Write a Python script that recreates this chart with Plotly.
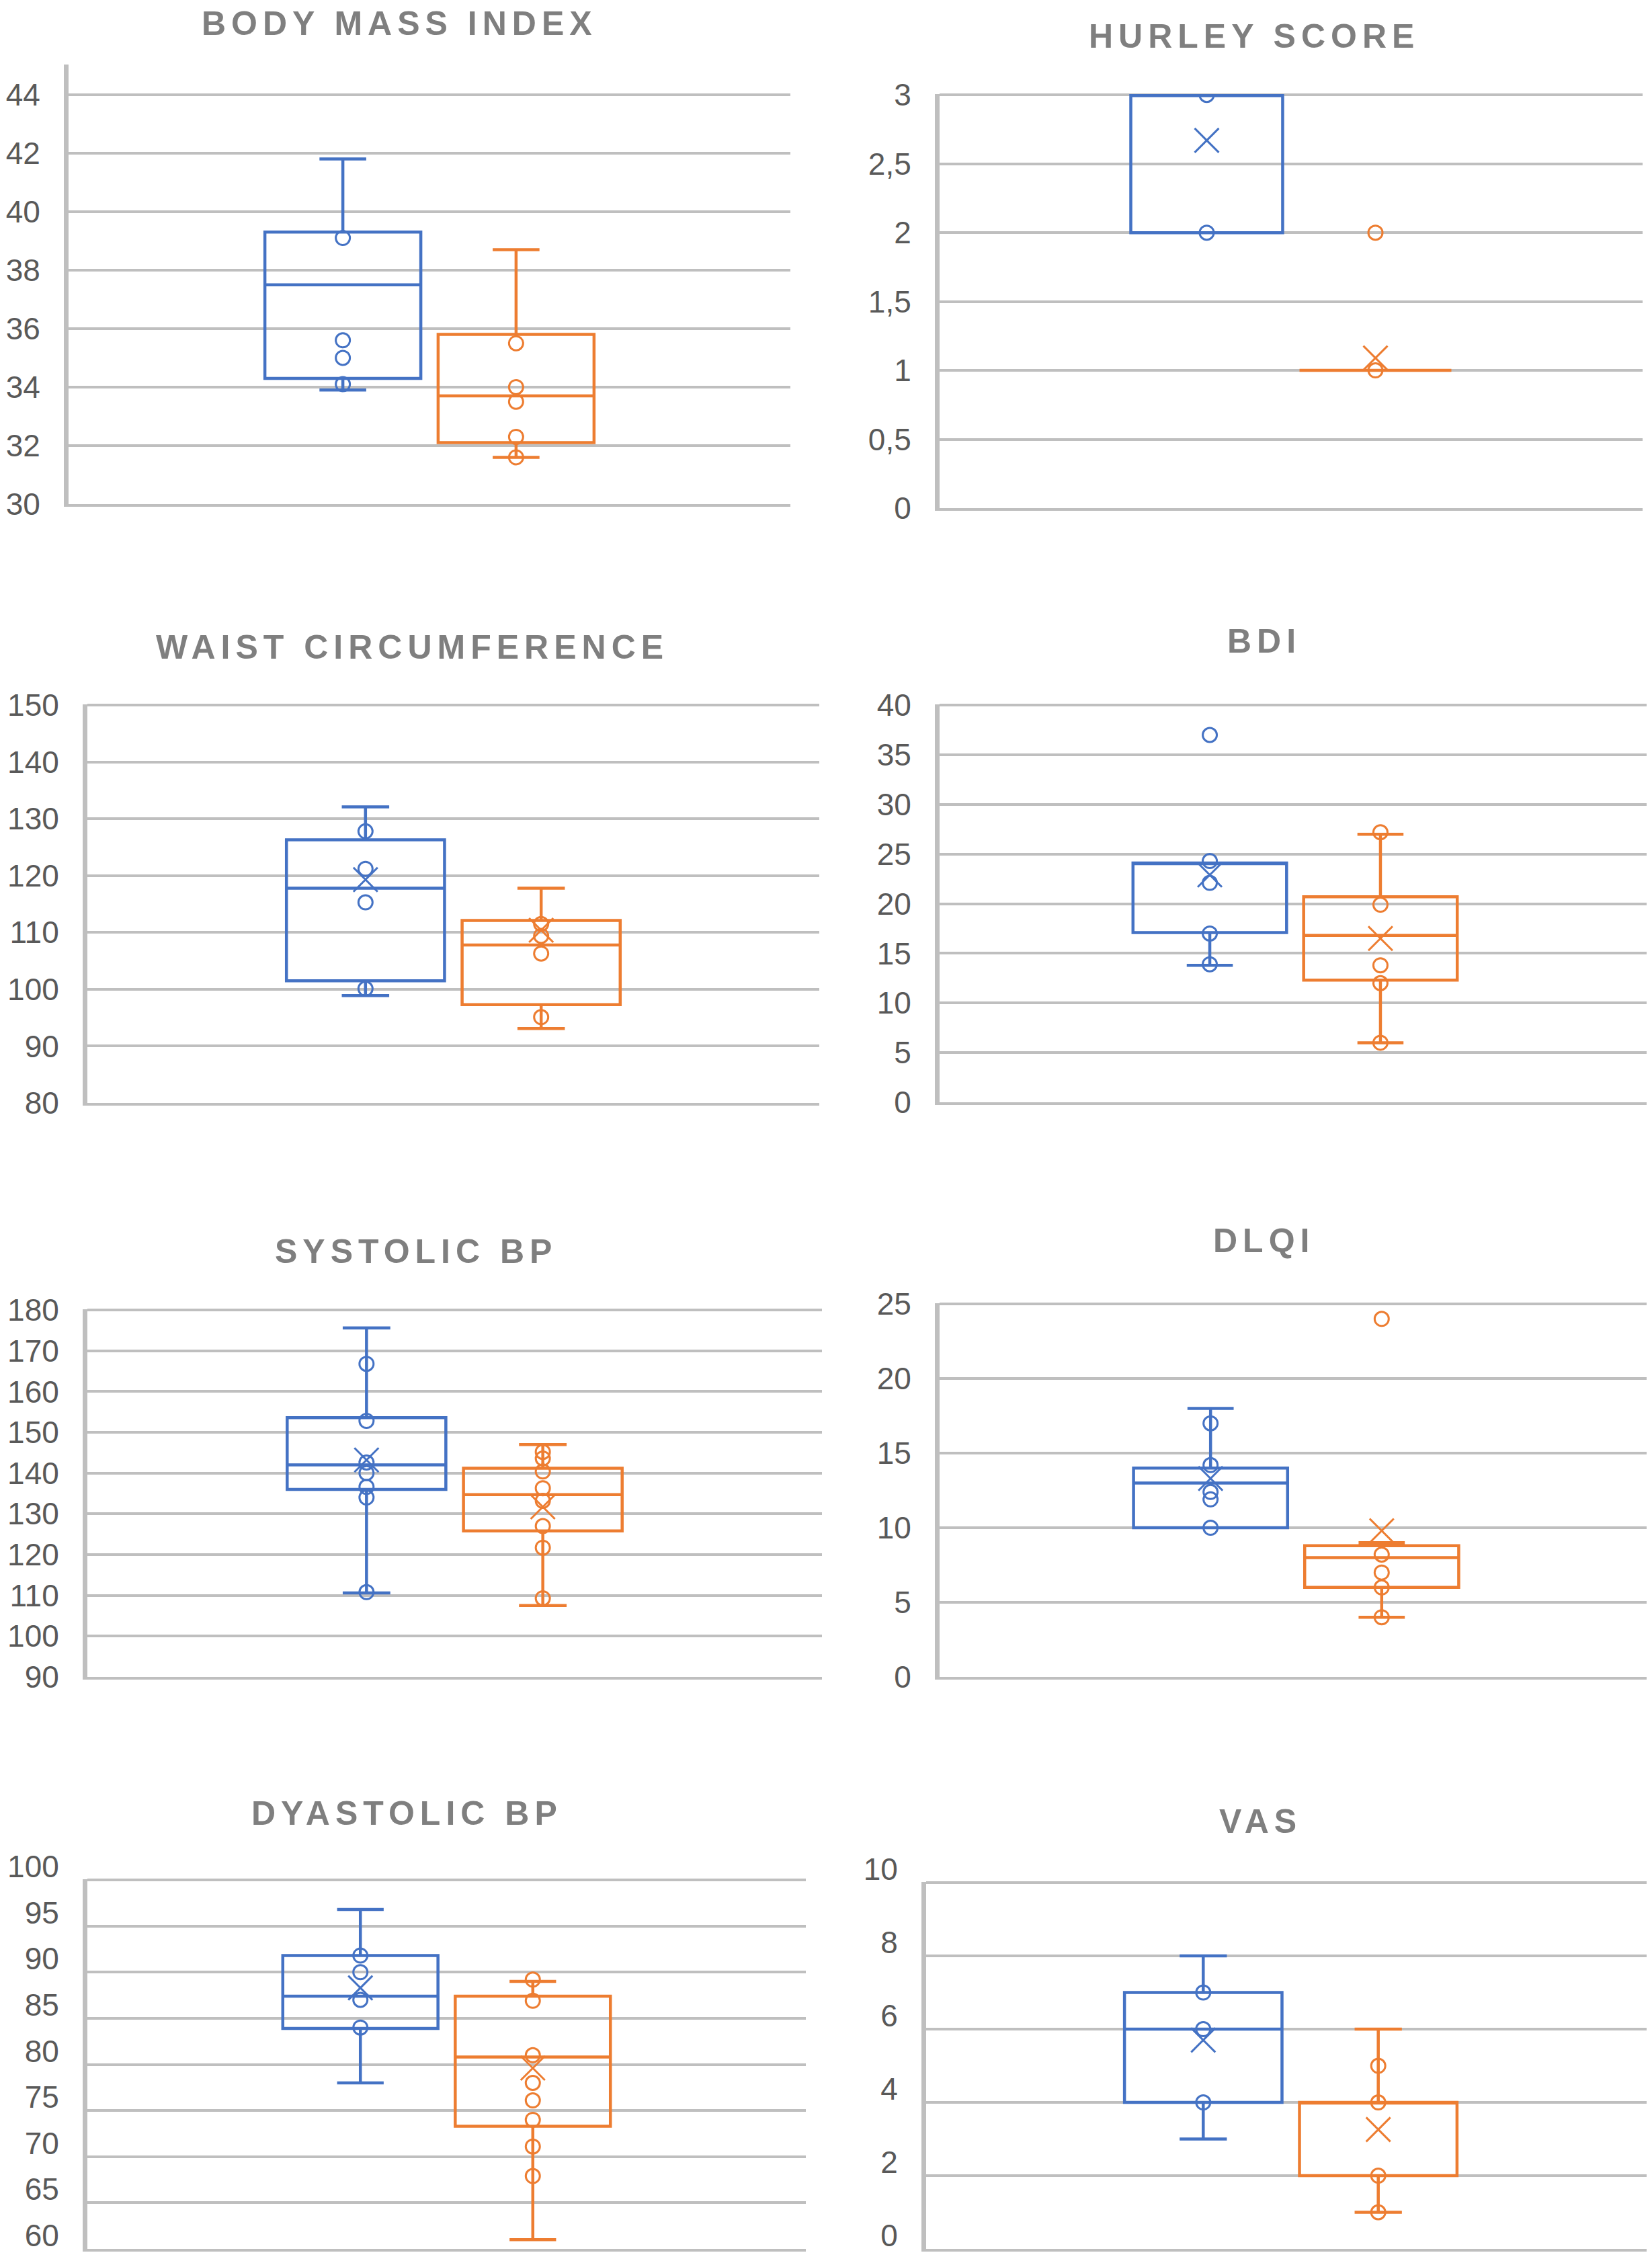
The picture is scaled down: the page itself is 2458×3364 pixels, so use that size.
import plotly.graph_objects as go

# panels, left to right and top to bottom
titles = ["BODY MASS INDEX", "HURLEY SCORE", "WAIST CIRCUMFERENCE", "BDI",
          "SYSTOLIC BP", "DLQI", "DYASTOLIC BP", "VAS"]

# value axis of each panel
y_min = [30, 0, 80, 0, 90, 0, 60, 0]
y_max = [45, 3, 150, 40, 180, 25, 100, 10]
y_step = [2, 0.5, 10, 5, 10, 5, 5, 2]

# blue group (box stats)
blue_low = [33.9, 2, 98.9, 13.8, 110.6, 10.0, 78.0, 3]
blue_q1 = [34.3, 2, 101.5, 17.1, 136.0, 10.0, 83.9, 4]
blue_median = [37.5, 3, 117.8, 24.1, 142.0, 13.0, 87.4, 6]
blue_q3 = [39.3, 3, 126.3, 24.1, 153.6, 14.0, 91.8, 7]
blue_high = [41.8, 3, 132.1, 24.1, 175.6, 18.0, 96.8, 8]
blue_mean = [None, 2.67, 119.3, 22.9, 143.2, 13.3, 88.3, 5.7]
blue_points = [
    [39.1, 35.6, 35.0, 34.1],
    [3, 2],
    [127.8, 121.2, 115.3, 100.1],
    [37.0, 24.3, 22.1, 17.0, 13.9],
    [166.8, 152.8, 142.6, 140.0, 136.6, 134.0, 110.8],
    [17.0, 14.2, 12.4, 11.9, 10.0],
    [91.8, 90.0, 87.0, 84.0],
    [7, 6, 4],
]

# orange group
orange_low = [31.6, 1, 93.1, 6.0, 107.5, 4.0, 61.0, 1]
orange_q1 = [32.1, 1, 97.3, 12.3, 125.8, 6.0, 73.3, 2]
orange_median = [33.7, 1, 107.8, 16.8, 134.7, 8.0, 80.8, 4]
orange_q3 = [35.8, 1, 112.1, 20.7, 141.2, 8.8, 87.4, 4]
orange_high = [38.7, 1, 117.8, 27.0, 147.0, 9.0, 89.0, 6]
orange_mean = [None, 1.09, 110.4, 16.5, 131.7, 9.8, 79.6, 3.26]
orange_points = [
    [35.5, 34.0, 33.5, 32.3, 31.6],
    [2, 1],
    [111.5, 109.4, 106.3, 95.1],
    [27.2, 19.9, 13.8, 12.0, 6.0],
    [145.2, 143.6, 140.4, 136.3, 133.2, 127.0, 121.7, 109.3],
    [24.0, 8.2, 7.0, 6.0, 4.0],
    [89.2, 86.9, 81.0, 78.0, 76.1, 74.0, 71.1, 67.9],
    [5, 4, 2, 1],
]

W, H = 2458, 3364
BLUE = "#4472C4"
ORANGE = "#ED7D31"
GRID = "#BFBFBF"

# plot areas in pixels: left, right, top, bottom
plot_px = [(94, 1168, 88, 742), (1390, 2436, 132, 748),
           (122, 1211, 1040, 1633), (1390, 2448, 1040, 1632),
           (122, 1215, 1940, 2487), (1390, 2451, 1931, 2487),
           (122, 1191, 2788, 3338), (1370, 2455, 2792, 3338)]
# title centres in pixels
title_px = [(586, 27), (1858, 46), (605, 955), (1873, 946),
            (611, 1854), (1872, 1838), (597, 2690), (1867, 2702)]
# bottom row labels are lifted so they stay inside the page
label_shift = [0, 0, 0, 0, 0, 0, -20, -20]

# one category per panel, two boxes side by side (like excel)
box_gap = 0.52
group_gap = 0.1
slot = (1 - box_gap) / 2
box_w = slot * (1 - group_gap)
x_pos = [-slot / 2, slot / 2]

fig = go.Figure()

groups = [
    (BLUE, blue_low, blue_q1, blue_median, blue_q3, blue_high, blue_mean, blue_points),
    (ORANGE, orange_low, orange_q1, orange_median, orange_q3, orange_high, orange_mean, orange_points),
]

for i in range(len(titles)):
    n = "" if i == 0 else str(i + 1)
    for g, (col, lo, q1, med, q3, hi, mean, pts) in enumerate(groups):
        xc = x_pos[g]
        fig.add_trace(go.Box(
            x=[xc], q1=[q1[i]], median=[med[i]], q3=[q3[i]],
            lowerfence=[lo[i]], upperfence=[hi[i]],
            width=box_w, whiskerwidth=0.3, boxpoints=False,
            line=dict(color=col, width=4.5), fillcolor="rgba(0,0,0,0)",
            xaxis="x" + n, yaxis="y" + n, showlegend=False, hoverinfo="skip"))
        fig.add_trace(go.Scatter(
            x=[xc] * len(pts[i]), y=pts[i], mode="markers",
            marker=dict(symbol="circle-open", size=21, color=col,
                        line=dict(color=col, width=3)),
            xaxis="x" + n, yaxis="y" + n, showlegend=False, hoverinfo="skip"))
        if mean[i] is not None:
            fig.add_trace(go.Scatter(
                x=[xc], y=[mean[i]], mode="markers",
                marker=dict(symbol="x-thin-open", size=36, color=col,
                            line=dict(color=col, width=3)),
                xaxis="x" + n, yaxis="y" + n, showlegend=False, hoverinfo="skip"))

    l, r, t, b = plot_px[i]
    span = y_max[i] - y_min[i]
    fig.layout["xaxis" + n] = dict(
        domain=[l / W, r / W], range=[-0.5, 0.5], anchor="y" + n,
        showgrid=False, zeroline=False, showticklabels=False, ticks="",
        showline=True, linecolor=GRID, linewidth=4, fixedrange=True,
        automargin=False)
    fig.layout["yaxis" + n] = dict(
        domain=[1 - b / H, 1 - t / H], range=[y_min[i], y_max[i] + span * 0.002],
        anchor="x" + n, tick0=y_min[i], dtick=y_step[i],
        showgrid=True, gridcolor=GRID, gridwidth=4, zeroline=False,
        showline=True, linecolor=GRID, linewidth=7, ticks="",
        ticklabelstandoff=26, ticklabelshift=label_shift[i],
        automargin=False, ticklabeloverflow="allow",
        tickfont=dict(family="Liberation Sans, Arial, sans-serif", size=46, color="#595959"),
        fixedrange=True)

    tx, ty = title_px[i]
    fig.add_annotation(
        text='<span style="letter-spacing:8px">' + titles[i] + "</span>",
        x=tx / W, y=1 - ty / H, xref="paper", yref="paper",
        xanchor="center", yanchor="middle", showarrow=False,
        font=dict(family="Liberation Sans, Arial, sans-serif", size=50,
                  color="#7F7F7F", weight="bold"))

fig.update_layout(
    width=W, height=H,
    margin=dict(l=0, r=0, t=0, b=0, autoexpand=False),
    paper_bgcolor="white", plot_bgcolor="white",
    separators=",.", showlegend=False)

fig.write_html("out.html")
